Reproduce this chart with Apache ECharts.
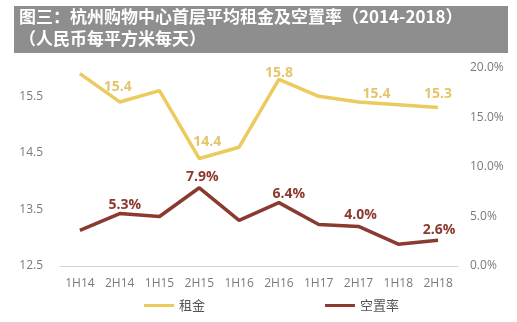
<!DOCTYPE html>
<html>
<head>
<meta charset="utf-8">
<script src="https://cdn.jsdelivr.net/npm/echarts@6/dist/echarts.min.js"></script>
<style>
  html, body { margin: 0; padding: 0; background: #ffffff; }
  #chart { width: 517px; height: 322px; }
</style>
</head>
<body>
<div id="chart"></div>
<script>
// Half-year periods
const periods = ['1H14', '2H14', '1H15', '2H15', '1H16', '2H16', '1H17', '2H17', '1H18', '2H18'];
// Average ground-floor rent (RMB per sqm per day)
const rent = [15.9, 15.4, 15.6, 14.4, 14.6, 15.8, 15.5, 15.4, 15.35, 15.3];
// Vacancy rate (%)
const vacancy = [3.6, 5.3, 5.0, 7.9, 4.6, 6.4, 4.2, 4.0, 2.2, 2.6];
// Periods whose values are annotated
const annotated = ['2H14', '2H15', '2H16', '2H17', '2H18'];
// Left axis tick labels
const rentTicks = [12.5, 13.5, 14.5, 15.5];

const titleLine1 = '图三：杭州购物中心首层平均租金及空置率（2014-2018）';
const titleLine2 = '（人民币每平方米每天）';

const RENT_COLOR = '#ebcb5e';
const RENT_LABEL = '#e4c56c';
const VAC_COLOR = '#8b3a2f';
const AXIS_TEXT = '#7a7a7a';
const FONT = '"Noto Sans CJK SC", "Noto Sans", sans-serif';

// Label nudges (px) so annotations sit clear of the lines
const rentLabelNudge = { '2H14': [-2, -1], '2H15': [8, -2], '2H16': [0, 8], '2H17': [18, 6], '2H18': [0, 0] };
const vacLabelNudge = { '2H14': [5, 5], '2H15': [3, 3], '2H16': [10, 5], '2H17': [2, 3], '2H18': [1, 4] };

function withLabels(values, fmt, color, nudge) {
  return values.map((v, i) => ({
    value: v,
    label: {
      show: annotated.includes(periods[i]),
      position: 'top',
      distance: 7,
      offset: nudge[periods[i]] || [0, 0],
      formatter: fmt,
      color: color,
      fontWeight: 'bold',
      fontSize: 14,
      fontFamily: '"Open Sans", "Noto Sans", sans-serif'
    }
  }));
}

const chart = echarts.init(document.getElementById('chart'), null, { renderer: 'canvas' });
chart.setOption({
  animation: false,
  backgroundColor: '#ffffff',
  textStyle: { fontFamily: FONT },
  graphic: [
    { type: 'rect', shape: { x: 14, y: 6, width: 494, height: 47 }, style: { fill: '#8e8e8e' } },
    { type: 'text', left: 19, top: 8, style: { text: titleLine1, fill: '#ffffff', font: 'bold 17px ' + FONT } },
    { type: 'text', left: 19, top: 30, style: { text: titleLine2, fill: '#ffffff', font: 'bold 17px ' + FONT } }
  ],
  legend: {
    bottom: 5,
    left: 139,
    itemGap: 120,
    itemWidth: 30,
    itemHeight: 3,
    icon: 'rect',
    textStyle: { color: '#555555', fontSize: 13, fontFamily: FONT },
    data: ['租金', '空置率']
  },
  grid: { left: 60, right: 59, top: 68, bottom: 56 },
  xAxis: {
    type: 'category',
    data: periods,
    boundaryGap: true,
    axisLine: { lineStyle: { color: '#d4d4d4', width: 1 } },
    axisTick: { show: false },
    axisLabel: { color: AXIS_TEXT, fontSize: 12, margin: 12, fontFamily: '"Open Sans", sans-serif' }
  },
  yAxis: [
    {
      type: 'value',
      min: 12.5,
      max: 16.0,
      interval: 0.5,
      splitLine: { show: false },
      axisLine: { show: false },
      axisTick: { show: false },
      axisLabel: {
        color: AXIS_TEXT,
        fontSize: 12,
        margin: 17,
        fontFamily: '"Open Sans", sans-serif',
        formatter: v => rentTicks.some(t => Math.abs(t - v) < 1e-6) ? v.toFixed(1) : ''
      }
    },
    {
      type: 'value',
      min: 0,
      max: 20,
      interval: 5,
      position: 'right',
      splitLine: { show: false },
      axisLine: { show: false },
      axisTick: { show: false },
      axisLabel: {
        color: AXIS_TEXT,
        fontSize: 12,
        margin: 12,
        fontFamily: '"Open Sans", sans-serif',
        formatter: v => v.toFixed(1) + '%'
      }
    }
  ],
  series: [
    {
      name: '租金',
      type: 'line',
      yAxisIndex: 0,
      data: withLabels(rent, p => p.value.toFixed(1), RENT_LABEL, rentLabelNudge),
      symbol: 'circle',
      symbolSize: 0,
      showSymbol: true,
      lineStyle: { color: RENT_COLOR, width: 3.5 },
      itemStyle: { color: RENT_COLOR }
    },
    {
      name: '空置率',
      type: 'line',
      yAxisIndex: 1,
      data: withLabels(vacancy, p => p.value.toFixed(1) + '%', VAC_COLOR, vacLabelNudge),
      symbol: 'circle',
      symbolSize: 0,
      showSymbol: true,
      lineStyle: { color: VAC_COLOR, width: 3.5 },
      itemStyle: { color: VAC_COLOR }
    }
  ]
});
</script>
</body>
</html>
